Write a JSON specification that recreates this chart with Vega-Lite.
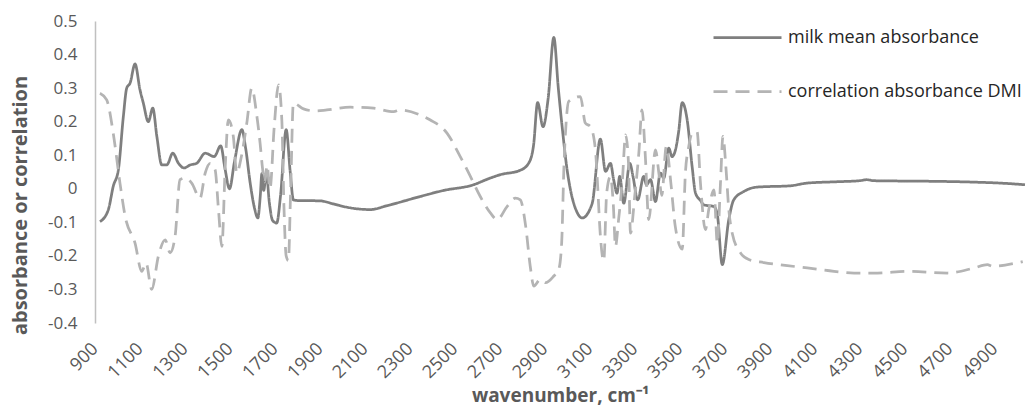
{
  "$schema": "https://vega.github.io/schema/vega-lite/v6.json",
  "width": 930,
  "height": 302,
  "autosize": {"type": "none"},
  "padding": {"left": 95, "top": 21, "right": 5, "bottom": 86},
  "background": "white",
  "config": {
    "view": {"stroke": null},
    "font": "Open Sans",
    "axisY": {
      "values": [-0.4, -0.3, -0.2, -0.1, 0, 0.1, 0.2, 0.3, 0.4, 0.5],
      "labelExpr": "'' + datum.value",
      "labelFontSize": 17,
      "labelColor": "#595959",
      "labelPadding": 18,
      "labelOverlap": false,
      "labelFlush": false,
      "labelBound": false,
      "ticks": false,
      "grid": false,
      "domainColor": "#c0c0c0",
      "domainWidth": 1.5,
      "titleFontSize": 20,
      "titleFontWeight": "bold",
      "titleColor": "#595959",
      "titlePadding": 17,
      "titleY": 184
    }
  },
  "datasets": {
    "spectra": [
      {"series": "milk mean absorbance", "wn": 922, "v": -0.098},
      {"series": "milk mean absorbance", "wn": 959, "v": -0.063},
      {"series": "milk mean absorbance", "wn": 981, "v": 0.007},
      {"series": "milk mean absorbance", "wn": 1004, "v": 0.057},
      {"series": "milk mean absorbance", "wn": 1026, "v": 0.215},
      {"series": "milk mean absorbance", "wn": 1041, "v": 0.3},
      {"series": "milk mean absorbance", "wn": 1056, "v": 0.315},
      {"series": "milk mean absorbance", "wn": 1078, "v": 0.372},
      {"series": "milk mean absorbance", "wn": 1100, "v": 0.295},
      {"series": "milk mean absorbance", "wn": 1115, "v": 0.255},
      {"series": "milk mean absorbance", "wn": 1137, "v": 0.2},
      {"series": "milk mean absorbance", "wn": 1157, "v": 0.24},
      {"series": "milk mean absorbance", "wn": 1175, "v": 0.156},
      {"series": "milk mean absorbance", "wn": 1197, "v": 0.071},
      {"series": "milk mean absorbance", "wn": 1219, "v": 0.071},
      {"series": "milk mean absorbance", "wn": 1246, "v": 0.106},
      {"series": "milk mean absorbance", "wn": 1271, "v": 0.076},
      {"series": "milk mean absorbance", "wn": 1296, "v": 0.062},
      {"series": "milk mean absorbance", "wn": 1323, "v": 0.071},
      {"series": "milk mean absorbance", "wn": 1352, "v": 0.076},
      {"series": "milk mean absorbance", "wn": 1390, "v": 0.106},
      {"series": "milk mean absorbance", "wn": 1430, "v": 0.096},
      {"series": "milk mean absorbance", "wn": 1459, "v": 0.128},
      {"series": "milk mean absorbance", "wn": 1478, "v": 0.06},
      {"series": "milk mean absorbance", "wn": 1498, "v": 0.0},
      {"series": "milk mean absorbance", "wn": 1520, "v": 0.08},
      {"series": "milk mean absorbance", "wn": 1553, "v": 0.176},
      {"series": "milk mean absorbance", "wn": 1570, "v": 0.12},
      {"series": "milk mean absorbance", "wn": 1590, "v": 0.017},
      {"series": "milk mean absorbance", "wn": 1610, "v": -0.06},
      {"series": "milk mean absorbance", "wn": 1624, "v": -0.087},
      {"series": "milk mean absorbance", "wn": 1635, "v": -0.02},
      {"series": "milk mean absorbance", "wn": 1642, "v": 0.045},
      {"series": "milk mean absorbance", "wn": 1650, "v": -0.005},
      {"series": "milk mean absorbance", "wn": 1662, "v": 0.047},
      {"series": "milk mean absorbance", "wn": 1675, "v": -0.04},
      {"series": "milk mean absorbance", "wn": 1690, "v": -0.095},
      {"series": "milk mean absorbance", "wn": 1708, "v": -0.102},
      {"series": "milk mean absorbance", "wn": 1725, "v": -0.02},
      {"series": "milk mean absorbance", "wn": 1750, "v": 0.176},
      {"series": "milk mean absorbance", "wn": 1768, "v": 0.05},
      {"series": "milk mean absorbance", "wn": 1782, "v": -0.033},
      {"series": "milk mean absorbance", "wn": 1800, "v": -0.035},
      {"series": "milk mean absorbance", "wn": 1900, "v": -0.036},
      {"series": "milk mean absorbance", "wn": 1960, "v": -0.045},
      {"series": "milk mean absorbance", "wn": 2020, "v": -0.055},
      {"series": "milk mean absorbance", "wn": 2124, "v": -0.062},
      {"series": "milk mean absorbance", "wn": 2200, "v": -0.05},
      {"series": "milk mean absorbance", "wn": 2346, "v": -0.023},
      {"series": "milk mean absorbance", "wn": 2450, "v": -0.005},
      {"series": "milk mean absorbance", "wn": 2583, "v": 0.012},
      {"series": "milk mean absorbance", "wn": 2650, "v": 0.03},
      {"series": "milk mean absorbance", "wn": 2702, "v": 0.042},
      {"series": "milk mean absorbance", "wn": 2790, "v": 0.055},
      {"series": "milk mean absorbance", "wn": 2828, "v": 0.076},
      {"series": "milk mean absorbance", "wn": 2850, "v": 0.13},
      {"series": "milk mean absorbance", "wn": 2868, "v": 0.257},
      {"series": "milk mean absorbance", "wn": 2892, "v": 0.185},
      {"series": "milk mean absorbance", "wn": 2915, "v": 0.27},
      {"series": "milk mean absorbance", "wn": 2940, "v": 0.451},
      {"series": "milk mean absorbance", "wn": 2960, "v": 0.3},
      {"series": "milk mean absorbance", "wn": 2977, "v": 0.185},
      {"series": "milk mean absorbance", "wn": 2999, "v": 0.057},
      {"series": "milk mean absorbance", "wn": 3014, "v": -0.003},
      {"series": "milk mean absorbance", "wn": 3040, "v": -0.065},
      {"series": "milk mean absorbance", "wn": 3066, "v": -0.087},
      {"series": "milk mean absorbance", "wn": 3110, "v": -0.045},
      {"series": "milk mean absorbance", "wn": 3147, "v": 0.148},
      {"series": "milk mean absorbance", "wn": 3170, "v": 0.052},
      {"series": "milk mean absorbance", "wn": 3192, "v": 0.076},
      {"series": "milk mean absorbance", "wn": 3206, "v": 0.027},
      {"series": "milk mean absorbance", "wn": 3221, "v": -0.013},
      {"series": "milk mean absorbance", "wn": 3233, "v": 0.037},
      {"series": "milk mean absorbance", "wn": 3251, "v": -0.043},
      {"series": "milk mean absorbance", "wn": 3278, "v": 0.076},
      {"series": "milk mean absorbance", "wn": 3292, "v": 0.037},
      {"series": "milk mean absorbance", "wn": 3313, "v": -0.033},
      {"series": "milk mean absorbance", "wn": 3340, "v": 0.037},
      {"series": "milk mean absorbance", "wn": 3352, "v": 0.012},
      {"series": "milk mean absorbance", "wn": 3370, "v": 0.027},
      {"series": "milk mean absorbance", "wn": 3392, "v": -0.038},
      {"series": "milk mean absorbance", "wn": 3414, "v": 0.047},
      {"series": "milk mean absorbance", "wn": 3429, "v": 0.032},
      {"series": "milk mean absorbance", "wn": 3451, "v": 0.121},
      {"series": "milk mean absorbance", "wn": 3466, "v": 0.096},
      {"series": "milk mean absorbance", "wn": 3481, "v": 0.116},
      {"series": "milk mean absorbance", "wn": 3495, "v": 0.17},
      {"series": "milk mean absorbance", "wn": 3511, "v": 0.257},
      {"series": "milk mean absorbance", "wn": 3533, "v": 0.205},
      {"series": "milk mean absorbance", "wn": 3555, "v": 0.066},
      {"series": "milk mean absorbance", "wn": 3570, "v": -0.013},
      {"series": "milk mean absorbance", "wn": 3592, "v": -0.035},
      {"series": "milk mean absorbance", "wn": 3607, "v": -0.048},
      {"series": "milk mean absorbance", "wn": 3652, "v": -0.053},
      {"series": "milk mean absorbance", "wn": 3667, "v": -0.077},
      {"series": "milk mean absorbance", "wn": 3689, "v": -0.226},
      {"series": "milk mean absorbance", "wn": 3718, "v": -0.092},
      {"series": "milk mean absorbance", "wn": 3740, "v": -0.033},
      {"series": "milk mean absorbance", "wn": 3785, "v": -0.008},
      {"series": "milk mean absorbance", "wn": 3844, "v": 0.005},
      {"series": "milk mean absorbance", "wn": 3993, "v": 0.009},
      {"series": "milk mean absorbance", "wn": 4067, "v": 0.017},
      {"series": "milk mean absorbance", "wn": 4200, "v": 0.021},
      {"series": "milk mean absorbance", "wn": 4300, "v": 0.024},
      {"series": "milk mean absorbance", "wn": 4330, "v": 0.027},
      {"series": "milk mean absorbance", "wn": 4364, "v": 0.024},
      {"series": "milk mean absorbance", "wn": 4500, "v": 0.023},
      {"series": "milk mean absorbance", "wn": 4660, "v": 0.022},
      {"series": "milk mean absorbance", "wn": 4800, "v": 0.02},
      {"series": "milk mean absorbance", "wn": 4950, "v": 0.016},
      {"series": "milk mean absorbance", "wn": 5035, "v": 0.012},
      {"series": "correlation absorbance DMI", "wn": 922, "v": 0.285},
      {"series": "correlation absorbance DMI", "wn": 952, "v": 0.265},
      {"series": "correlation absorbance DMI", "wn": 981, "v": 0.166},
      {"series": "correlation absorbance DMI", "wn": 1011, "v": 0.017},
      {"series": "correlation absorbance DMI", "wn": 1034, "v": -0.082},
      {"series": "correlation absorbance DMI", "wn": 1078, "v": -0.162},
      {"series": "correlation absorbance DMI", "wn": 1108, "v": -0.246},
      {"series": "correlation absorbance DMI", "wn": 1127, "v": -0.221},
      {"series": "correlation absorbance DMI", "wn": 1152, "v": -0.3},
      {"series": "correlation absorbance DMI", "wn": 1182, "v": -0.2},
      {"series": "correlation absorbance DMI", "wn": 1212, "v": -0.152},
      {"series": "correlation absorbance DMI", "wn": 1234, "v": -0.191},
      {"series": "correlation absorbance DMI", "wn": 1256, "v": -0.142},
      {"series": "correlation absorbance DMI", "wn": 1278, "v": 0.027},
      {"series": "correlation absorbance DMI", "wn": 1300, "v": 0.032},
      {"series": "correlation absorbance DMI", "wn": 1330, "v": 0.017},
      {"series": "correlation absorbance DMI", "wn": 1367, "v": -0.028},
      {"series": "correlation absorbance DMI", "wn": 1390, "v": 0.047},
      {"series": "correlation absorbance DMI", "wn": 1412, "v": 0.076},
      {"series": "correlation absorbance DMI", "wn": 1434, "v": 0.057},
      {"series": "correlation absorbance DMI", "wn": 1449, "v": -0.062},
      {"series": "correlation absorbance DMI", "wn": 1464, "v": -0.172},
      {"series": "correlation absorbance DMI", "wn": 1479, "v": 0.066},
      {"series": "correlation absorbance DMI", "wn": 1493, "v": 0.205},
      {"series": "correlation absorbance DMI", "wn": 1515, "v": 0.156},
      {"series": "correlation absorbance DMI", "wn": 1530, "v": 0.047},
      {"series": "correlation absorbance DMI", "wn": 1552, "v": 0.1},
      {"series": "correlation absorbance DMI", "wn": 1575, "v": 0.196},
      {"series": "correlation absorbance DMI", "wn": 1597, "v": 0.3},
      {"series": "correlation absorbance DMI", "wn": 1619, "v": 0.22},
      {"series": "correlation absorbance DMI", "wn": 1634, "v": 0.136},
      {"series": "correlation absorbance DMI", "wn": 1645, "v": 0.06},
      {"series": "correlation absorbance DMI", "wn": 1655, "v": 0.02},
      {"series": "correlation absorbance DMI", "wn": 1665, "v": 0.07},
      {"series": "correlation absorbance DMI", "wn": 1678, "v": 0.0},
      {"series": "correlation absorbance DMI", "wn": 1697, "v": 0.186},
      {"series": "correlation absorbance DMI", "wn": 1716, "v": 0.31},
      {"series": "correlation absorbance DMI", "wn": 1731, "v": 0.2},
      {"series": "correlation absorbance DMI", "wn": 1740, "v": -0.05},
      {"series": "correlation absorbance DMI", "wn": 1750, "v": -0.2},
      {"series": "correlation absorbance DMI", "wn": 1760, "v": -0.214},
      {"series": "correlation absorbance DMI", "wn": 1770, "v": 0.0},
      {"series": "correlation absorbance DMI", "wn": 1782, "v": 0.255},
      {"series": "correlation absorbance DMI", "wn": 1827, "v": 0.238},
      {"series": "correlation absorbance DMI", "wn": 1879, "v": 0.232},
      {"series": "correlation absorbance DMI", "wn": 1931, "v": 0.235},
      {"series": "correlation absorbance DMI", "wn": 2035, "v": 0.243},
      {"series": "correlation absorbance DMI", "wn": 2139, "v": 0.24},
      {"series": "correlation absorbance DMI", "wn": 2228, "v": 0.23},
      {"series": "correlation absorbance DMI", "wn": 2257, "v": 0.235},
      {"series": "correlation absorbance DMI", "wn": 2346, "v": 0.22},
      {"series": "correlation absorbance DMI", "wn": 2391, "v": 0.205},
      {"series": "correlation absorbance DMI", "wn": 2465, "v": 0.166},
      {"series": "correlation absorbance DMI", "wn": 2524, "v": 0.096},
      {"series": "correlation absorbance DMI", "wn": 2569, "v": 0.037},
      {"series": "correlation absorbance DMI", "wn": 2613, "v": -0.023},
      {"series": "correlation absorbance DMI", "wn": 2658, "v": -0.072},
      {"series": "correlation absorbance DMI", "wn": 2688, "v": -0.092},
      {"series": "correlation absorbance DMI", "wn": 2732, "v": -0.053},
      {"series": "correlation absorbance DMI", "wn": 2769, "v": -0.028},
      {"series": "correlation absorbance DMI", "wn": 2791, "v": -0.033},
      {"series": "correlation absorbance DMI", "wn": 2815, "v": -0.112},
      {"series": "correlation absorbance DMI", "wn": 2835, "v": -0.23},
      {"series": "correlation absorbance DMI", "wn": 2851, "v": -0.29},
      {"series": "correlation absorbance DMI", "wn": 2880, "v": -0.27},
      {"series": "correlation absorbance DMI", "wn": 2903, "v": -0.28},
      {"series": "correlation absorbance DMI", "wn": 2940, "v": -0.26},
      {"series": "correlation absorbance DMI", "wn": 2962, "v": -0.24},
      {"series": "correlation absorbance DMI", "wn": 2975, "v": -0.16},
      {"series": "correlation absorbance DMI", "wn": 2985, "v": 0.066},
      {"series": "correlation absorbance DMI", "wn": 2995, "v": 0.2},
      {"series": "correlation absorbance DMI", "wn": 3006, "v": 0.26},
      {"series": "correlation absorbance DMI", "wn": 3058, "v": 0.275},
      {"series": "correlation absorbance DMI", "wn": 3080, "v": 0.196},
      {"series": "correlation absorbance DMI", "wn": 3103, "v": 0.185},
      {"series": "correlation absorbance DMI", "wn": 3125, "v": 0.116},
      {"series": "correlation absorbance DMI", "wn": 3135, "v": 0.007},
      {"series": "correlation absorbance DMI", "wn": 3145, "v": -0.12},
      {"series": "correlation absorbance DMI", "wn": 3162, "v": -0.215},
      {"series": "correlation absorbance DMI", "wn": 3175, "v": -0.013},
      {"series": "correlation absorbance DMI", "wn": 3192, "v": 0.037},
      {"series": "correlation absorbance DMI", "wn": 3205, "v": -0.053},
      {"series": "correlation absorbance DMI", "wn": 3214, "v": -0.172},
      {"series": "correlation absorbance DMI", "wn": 3228, "v": -0.092},
      {"series": "correlation absorbance DMI", "wn": 3245, "v": 0.027},
      {"series": "correlation absorbance DMI", "wn": 3259, "v": 0.161},
      {"series": "correlation absorbance DMI", "wn": 3272, "v": 0.076},
      {"series": "correlation absorbance DMI", "wn": 3281, "v": -0.132},
      {"series": "correlation absorbance DMI", "wn": 3300, "v": -0.02},
      {"series": "correlation absorbance DMI", "wn": 3318, "v": 0.106},
      {"series": "correlation absorbance DMI", "wn": 3332, "v": 0.235},
      {"series": "correlation absorbance DMI", "wn": 3347, "v": 0.096},
      {"series": "correlation absorbance DMI", "wn": 3362, "v": -0.092},
      {"series": "correlation absorbance DMI", "wn": 3392, "v": 0.116},
      {"series": "correlation absorbance DMI", "wn": 3407, "v": 0.047},
      {"series": "correlation absorbance DMI", "wn": 3420, "v": -0.02},
      {"series": "correlation absorbance DMI", "wn": 3440, "v": 0.126},
      {"series": "correlation absorbance DMI", "wn": 3460, "v": 0.02},
      {"series": "correlation absorbance DMI", "wn": 3480, "v": -0.112},
      {"series": "correlation absorbance DMI", "wn": 3511, "v": -0.18},
      {"series": "correlation absorbance DMI", "wn": 3525, "v": 0.047},
      {"series": "correlation absorbance DMI", "wn": 3540, "v": 0.126},
      {"series": "correlation absorbance DMI", "wn": 3555, "v": 0.166},
      {"series": "correlation absorbance DMI", "wn": 3577, "v": 0.17},
      {"series": "correlation absorbance DMI", "wn": 3592, "v": 0.017},
      {"series": "correlation absorbance DMI", "wn": 3614, "v": -0.122},
      {"series": "correlation absorbance DMI", "wn": 3629, "v": -0.062},
      {"series": "correlation absorbance DMI", "wn": 3652, "v": -0.003},
      {"series": "correlation absorbance DMI", "wn": 3667, "v": -0.162},
      {"series": "correlation absorbance DMI", "wn": 3681, "v": 0.017},
      {"series": "correlation absorbance DMI", "wn": 3692, "v": 0.156},
      {"series": "correlation absorbance DMI", "wn": 3705, "v": 0.066},
      {"series": "correlation absorbance DMI", "wn": 3718, "v": -0.062},
      {"series": "correlation absorbance DMI", "wn": 3733, "v": -0.132},
      {"series": "correlation absorbance DMI", "wn": 3770, "v": -0.191},
      {"series": "correlation absorbance DMI", "wn": 3807, "v": -0.211},
      {"series": "correlation absorbance DMI", "wn": 3874, "v": -0.22},
      {"series": "correlation absorbance DMI", "wn": 3978, "v": -0.229},
      {"series": "correlation absorbance DMI", "wn": 4067, "v": -0.236},
      {"series": "correlation absorbance DMI", "wn": 4186, "v": -0.246},
      {"series": "correlation absorbance DMI", "wn": 4275, "v": -0.251},
      {"series": "correlation absorbance DMI", "wn": 4379, "v": -0.251},
      {"series": "correlation absorbance DMI", "wn": 4512, "v": -0.246},
      {"series": "correlation absorbance DMI", "wn": 4690, "v": -0.251},
      {"series": "correlation absorbance DMI", "wn": 4809, "v": -0.236},
      {"series": "correlation absorbance DMI", "wn": 4868, "v": -0.226},
      {"series": "correlation absorbance DMI", "wn": 4890, "v": -0.231},
      {"series": "correlation absorbance DMI", "wn": 4998, "v": -0.221},
      {"series": "correlation absorbance DMI", "wn": 5025, "v": -0.217}
    ]
  },
  "layer": [
    {
      "mark": {"type": "rule", "color": "#c0c0c0", "strokeWidth": 1.5},
      "encoding": {"y": {"datum": 0, "type": "quantitative", "axis": {"title": "absorbance or correlation"}}}
    },
    {
      "data": {"name": "spectra"},
      "mark": {"type": "line", "strokeWidth": 2.75, "interpolate": "monotone"},
      "encoding": {
        "x": {
          "field": "wn",
          "type": "quantitative",
          "scale": {"domain": [900, 5035], "nice": false, "zero": false},
          "axis": {
            "values": [900, 1100, 1300, 1500, 1700, 1900, 2100, 2300, 2500, 2700, 2900, 3100, 3300, 3500, 3700, 3900, 4100, 4300, 4500, 4700, 4900],
            "format": "d",
            "labelAngle": -45,
            "labelAlign": "right",
            "labelBaseline": "middle",
            "labelPadding": 23,
            "labelFontSize": 18,
            "labelColor": "#595959",
            "labelOverlap": false,
            "labelFlush": false,
            "labelBound": false,
            "ticks": false,
            "domain": false,
            "grid": false,
            "title": "wavenumber, cm⁻¹",
            "titleFontSize": 19,
            "titleFontWeight": "bold",
            "titleColor": "#595959",
            "titlePadding": 5
          }
        },
        "y": {
          "field": "v",
          "type": "quantitative",
          "scale": {"domain": [-0.4, 0.5], "nice": false, "zero": false},
          "axis": {"title": "absorbance or correlation"}
        },
        "color": {
          "field": "series",
          "type": "nominal",
          "scale": {"domain": ["milk mean absorbance", "correlation absorbance DMI"], "range": ["#7f7f7f", "#b4b4b4"]},
          "legend": {
            "title": null,
            "orient": "none",
            "legendX": 617,
            "legendY": -19,
            "symbolType": "stroke",
            "symbolSize": 4624,
            "symbolStrokeWidth": 2.75,
            "labelFontSize": 18,
            "labelColor": "#262626",
            "labelOffset": 5,
            "labelLimit": 400,
            "rowPadding": 9,
            "padding": 0
          }
        },
        "strokeDash": {
          "field": "series",
          "type": "nominal",
          "scale": {"domain": ["milk mean absorbance", "correlation absorbance DMI"], "range": [[1, 0], [14, 8]]},
          "legend": {
            "title": null,
            "orient": "none",
            "legendX": 617,
            "legendY": -19,
            "symbolType": "stroke",
            "symbolSize": 4624,
            "symbolStrokeWidth": 2.75,
            "labelFontSize": 18,
            "labelColor": "#262626",
            "labelOffset": 5,
            "labelLimit": 400,
            "rowPadding": 9,
            "padding": 0
          }
        }
      }
    }
  ]
}
